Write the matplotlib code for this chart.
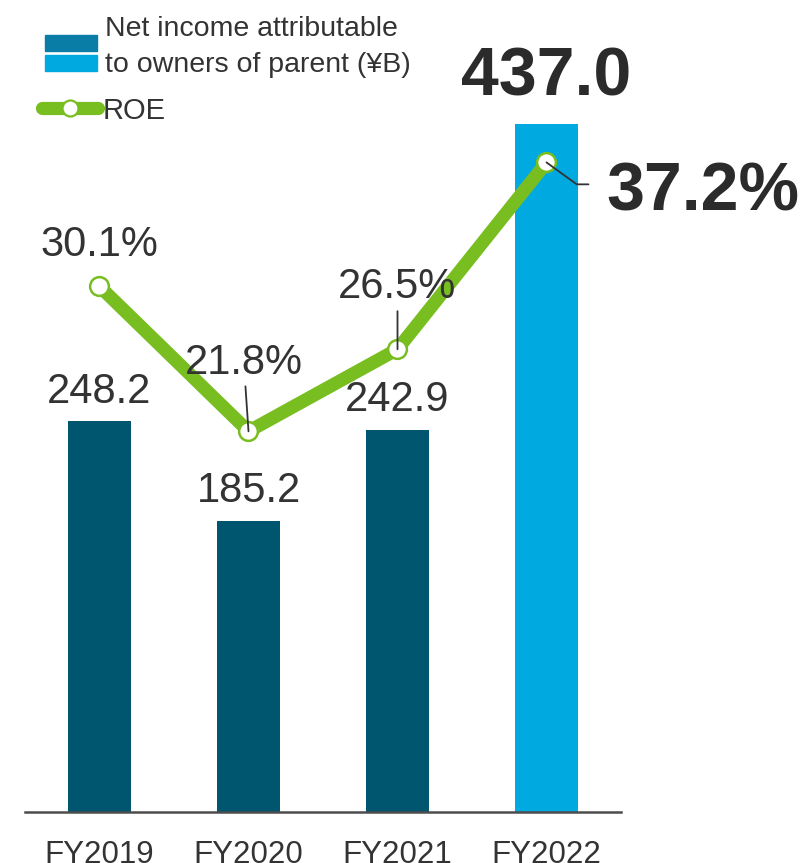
import matplotlib
matplotlib.use("Agg")
import matplotlib.pyplot as plt
from matplotlib.patches import Rectangle
from matplotlib.lines import Line2D

plt.rcParams['font.family'] = ['Liberation Sans', 'DejaVu Sans']

years = ['FY2019', 'FY2020', 'FY2021', 'FY2022']
net_income = [248.2, 185.2, 242.9, 437.0]
roe = [30.1, 21.8, 26.5, 37.2]

DARK = '#00566F'
LIGHT = '#00A9E0'
GREEN = '#78BE20'
TXT = '#333333'

fig = plt.figure(figsize=(8.05, 8.63), dpi=100)
W, H = 805, 863
ax = fig.add_axes([25 / W, 51 / H, 596 / W, 812 / H])
ax2 = ax.twinx()

# bars: latest year highlighted
colors = [DARK] * (len(years) - 1) + [LIGHT]
x = list(range(len(years)))
ax.bar(x, net_income, width=0.42, color=colors, zorder=2)
ax.set_xlim(-0.5, 3.5)
ax.set_ylim(0, 516)
ax2.set_ylim(0, 46.5)

for a in (ax, ax2):
    for s in ('top', 'right', 'left'):
        a.spines[s].set_visible(False)
    a.set_yticks([])
ax2.spines['bottom'].set_visible(False)
ax.spines['bottom'].set_color('#4d4d4d')
ax.spines['bottom'].set_linewidth(1.8)
ax.set_xticks(x)
ax.set_xticklabels(years, fontsize=22.5, color=TXT)
ax.tick_params(axis='x', length=0, pad=20)

# bar value labels
for i, v in enumerate(net_income):
    last = i == len(years) - 1
    ax.annotate(f'{v:.1f}', xy=(i, v), xytext=(0, 21 if last else 13.5),
                textcoords='offset points', ha='center', va='baseline',
                fontsize=49 if last else 30, fontweight='bold' if last else 'normal',
                color='#2b2b2b' if last else TXT, annotation_clip=False)

# ROE line
ax2.plot(x, roe, color=GREEN, lw=9.5, solid_capstyle='butt', zorder=3)
ax2.plot(x, roe, ls='none', marker='o', ms=13.5, mfc='white', mec=GREEN,
         mew=1.8, zorder=4)

# ROE labels (offsets in points) and leader lines
lbl_off = [(0, 21.6), (-3, 41), (0, 36.7), (43, -34.6)]
for i, v in enumerate(roe):
    last = i == len(years) - 1
    dx, dy = lbl_off[i]
    ax2.annotate(f'{v:.1f}%', xy=(i, v), xytext=(dx, dy), textcoords='offset points',
                 ha='left' if last else 'center', va='baseline',
                 fontsize=49 if last else 30, fontweight='bold' if last else 'normal',
                 color='#2b2b2b' if last else TXT, zorder=6, annotation_clip=False)

leader = dict(arrowstyle='-', color='#333333', lw=1.3, shrinkA=0, shrinkB=0)
ax2.annotate('', xy=(1, roe[1]), xytext=(-2.2, 32.4), textcoords='offset points',
             arrowprops=leader, zorder=5)
ax2.annotate('', xy=(2, roe[2]), xytext=(0, 27.4), textcoords='offset points',
             arrowprops=leader, zorder=5)
ax2.annotate('', xy=(3, roe[3]), xytext=(30.2, -15.8), textcoords='offset points',
             arrowprops=dict(leader, connectionstyle='angle,angleA=0,angleB=-36,rad=0'),
             zorder=5)

# legend drawn in figure pixels
def fx(px):
    return px / W

def fy(py):
    return 1 - py / H

fig.patches.append(Rectangle((fx(45), fy(51)), 52 / W, 16 / H, color='#0A7DA6',
                             transform=fig.transFigure, figure=fig))
fig.patches.append(Rectangle((fx(45), fy(71)), 52 / W, 16 / H, color=LIGHT,
                             transform=fig.transFigure, figure=fig))
fig.text(fx(105), fy(36), 'Net income attributable', fontsize=20.5, color=TXT,
         va='baseline', ha='left')
fig.text(fx(105), fy(72), 'to owners of parent (¥B)', fontsize=20.5, color=TXT,
         va='baseline', ha='left')
fig.lines.append(Line2D([fx(42), fx(98)], [fy(108), fy(108)], color=GREEN, lw=9.5,
                        solid_capstyle='round', transform=fig.transFigure, figure=fig))
fig.lines.append(Line2D([fx(70)], [fy(108)], marker='o', ms=11.5, mfc='white',
                        mec=GREEN, mew=1.6, transform=fig.transFigure, figure=fig))
fig.text(fx(103), fy(108), 'ROE', fontsize=21, color=TXT, va='center_baseline',
         ha='left')

fig.savefig('out.png', dpi=100)
